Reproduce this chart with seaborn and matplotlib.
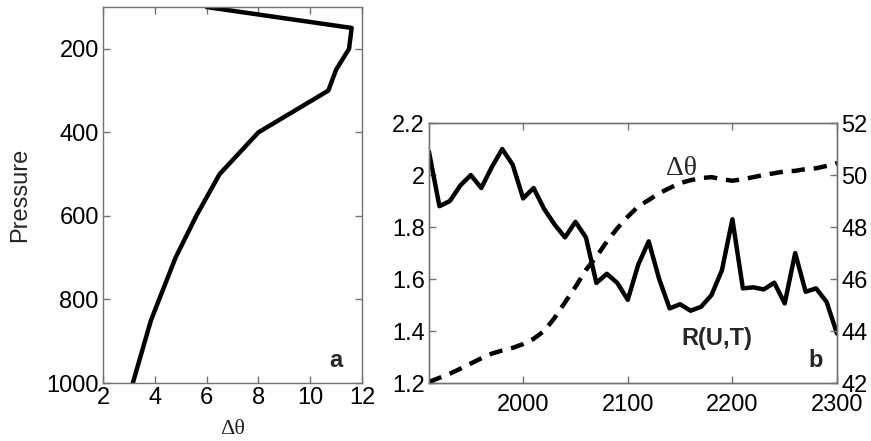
import numpy as np
import pandas as pd
import matplotlib
matplotlib.use("Agg")
import matplotlib.pyplot as plt
import seaborn as sns

# panel a: vertical profile of delta theta
pressure = [100, 150, 200, 250, 300, 400, 500, 600, 700, 850, 1000]
dtheta_profile = [6.0, 11.6, 11.5, 11.0, 10.7, 8.0, 6.5, 5.6, 4.8, 3.85, 3.15]

# panel b: time series (every 10 years)
years = list(range(1910, 2301, 10))
r_ut = [2.09, 1.88, 1.90, 1.96, 2.00, 1.95, 2.03, 2.10, 2.04, 1.91,
        1.95, 1.87, 1.81, 1.76, 1.82, 1.76, 1.585, 1.62, 1.585, 1.52,
        1.655, 1.745, 1.60, 1.487, 1.503, 1.478, 1.493, 1.538, 1.634, 1.83,
        1.564, 1.568, 1.56, 1.586, 1.506, 1.70, 1.551, 1.564, 1.512, 1.39]
dtheta_series = [42.04, 42.2, 42.36, 42.55, 42.75, 42.95, 43.13, 43.25, 43.35, 43.5,
                 43.7, 44.0, 44.5, 45.1, 45.7, 46.35, 46.86, 47.44, 47.95, 48.4,
                 48.79, 49.04, 49.3, 49.5, 49.69, 49.8, 49.88, 49.92, 49.84, 49.78,
                 49.84, 49.92, 50.0, 50.07, 50.14, 50.16, 50.23, 50.26, 50.35, 50.46]

sns.set_style("ticks")
plt.rcParams["font.family"] = ["Liberation Sans", "DejaVu Sans"]
serif = ["Liberation Serif", "DejaVu Serif"]

fig = plt.figure(figsize=(8.71, 4.41), dpi=100)
ax1 = fig.add_axes([0.1183, 0.1315, 0.2973, 0.8525])
ax2 = fig.add_axes([0.4925, 0.1315, 0.4685, 0.5895])

spine_col = "0.45"
fs = 17

# ---- panel a
prof = pd.DataFrame({"dtheta": dtheta_profile, "p": pressure})
sns.lineplot(data=prof, x="dtheta", y="p", sort=False, color="black", lw=3.2, ax=ax1)
ax1.set_xlim(2, 12)
ax1.set_ylim(1000, 100)
ax1.set_xticks(range(2, 13, 2))
ax1.set_yticks(range(200, 1001, 200))
ax1.set_ylabel("Pressure", fontsize=fs, labelpad=11)
ax1.set_xlabel("Δθ", fontsize=16, family=serif, labelpad=8)
ax1.text(11.0, 947, "a", fontsize=17, fontweight="bold", ha="center", va="center")

# ---- panel b
ts = pd.DataFrame({"year": years, "r": r_ut, "dth": dtheta_series})
sns.lineplot(data=ts, x="year", y="r", color="black", lw=3.2, ax=ax2)
ax2.set_xlim(1910, 2300)
ax2.set_ylim(1.2, 2.2)
ax2.set_xticks([2000, 2100, 2200, 2300])
ax2.set_yticks([1.2, 1.4, 1.6, 1.8, 2.0, 2.2])
ax2.set_yticklabels(["1.2", "1.4", "1.6", "1.8", "2", "2.2"])
ax2.set_xlabel("")
ax2.set_ylabel("")

ax3 = ax2.twinx()
sns.lineplot(data=ts, x="year", y="dth", color="black", lw=3.2, ax=ax3)
ax3.lines[0].set_dashes([3, 2])
ax3.set_ylim(42, 52)
ax3.set_yticks(range(42, 53, 2))
ax3.set_ylabel("")

ax2.text(2137, 2.027, "Δθ", fontsize=20, family=serif, ha="left", va="center")
ax2.text(2185, 1.372, "R(U,T)", fontsize=17, fontweight="bold", ha="center", va="center")
ax2.text(2280, 1.286, "b", fontsize=17, fontweight="bold", ha="center", va="center")

for ax in (ax1, ax2, ax3):
    for sp in ax.spines.values():
        sp.set_visible(True)
        sp.set_color(spine_col)
        sp.set_linewidth(1.0)
    ax.tick_params(direction="in", labelsize=fs, colors=spine_col, labelcolor="black",
                   length=5, width=1.0, pad=3)
ax1.tick_params(top=True, right=True)
ax2.tick_params(top=True)
ax2.tick_params(axis="x", pad=8)

fig.savefig("out.png", dpi=100)
